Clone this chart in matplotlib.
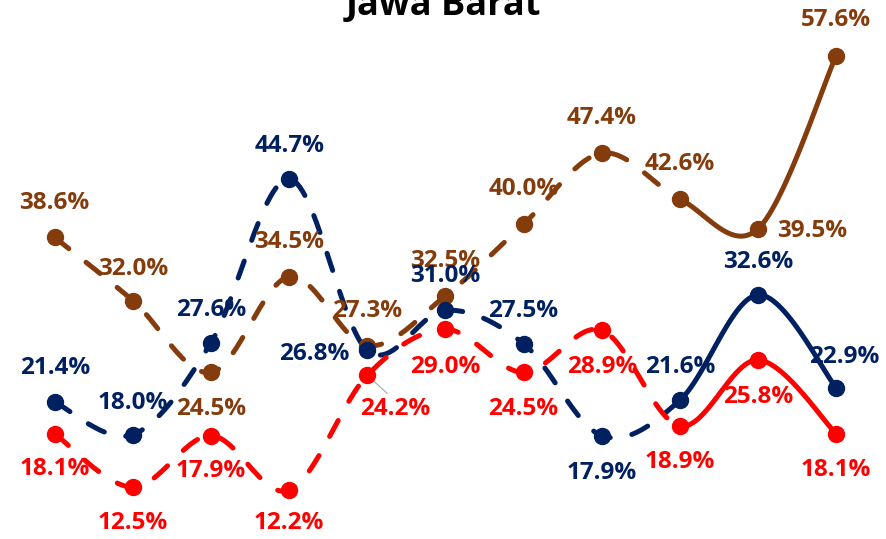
import numpy as np
import matplotlib.pyplot as plt

plt.rcParams['font.family'] = ['Open Sans', 'DejaVu Sans']

# data
x_idx = list(range(11))
brown = [38.6, 32.0, 24.5, 34.5, 27.3, 32.5, 40.0, 47.4, 42.6, 39.5, 57.6]
navy = [21.4, 18.0, 27.6, 44.7, 26.8, 31.0, 27.5, 17.9, 21.6, 32.6, 22.9]
red = [18.1, 12.5, 17.9, 12.2, 24.2, 29.0, 24.5, 28.9, 18.9, 25.8, 18.1]
split = 8  # dashed up to this point, solid after

# label offsets in pixels (dx, dy)
brown_off = [(0, 34), (0, 32), (0, -37), (0, 35), (0, 35), (0, 35), (0, 35), (0, 35), (0, 35), (54, -2), (0, 36)]
navy_off = [(0, 34), (0, 32), (0, 33), (0, 33), (-53, -4), (0, 34), (0, 33), (0, -37), (0, 33), (0, 33), (8, 31)]
red_off = [(0, -35), (0, -36), (0, -35), (0, -33), (28, -34), (0, -38), (0, -37), (0, -37), (0, -36), (0, -37), (0, -36)]

c_brown = '#843C0C'
c_navy = '#002060'
c_red = '#FF0000'


def smooth(xs, ys, n=30):
    # catmull-rom style bezier like excel smoothed lines
    xs = np.asarray(xs, float)
    ys = np.asarray(ys, float)
    P = np.column_stack([xs, ys])
    out = []
    for i in range(len(P) - 1):
        p0 = P[max(i - 1, 0)]
        p1 = P[i]
        p2 = P[i + 1]
        p3 = P[min(i + 2, len(P) - 1)]
        b1 = p1 + (p2 - p0) / 6
        b2 = p2 - (p3 - p1) / 6
        t = np.linspace(0, 1, n)[:, None]
        seg = (1 - t) ** 3 * p1 + 3 * (1 - t) ** 2 * t * b1 + 3 * (1 - t) * t ** 2 * b2 + t ** 3 * p2
        if i > 0:
            seg = seg[1:]
        out.append(seg)
    out = np.vstack(out)
    return out[:, 0], out[:, 1]


fig = plt.figure(figsize=(8.87, 5.39), dpi=100)
ax = fig.add_axes([0, 0, 1, 1])
ax.set_xlim(-0.70, 10.65)
ax.set_ylim(7.1, 63.4)
ax.axis('off')

for vals, col, offs in [(brown, c_brown, brown_off), (navy, c_navy, navy_off), (red, c_red, red_off)]:
    sx, sy = smooth(x_idx, vals)
    k = split * 30 - (split - 1)
    ax.plot(sx[:k], sy[:k], color=col, lw=3.6, dashes=(3.6, 4.4), dash_capstyle='round', zorder=2)
    ax.plot(sx[k - 1:], sy[k - 1:], color=col, lw=3.6, solid_capstyle='round', zorder=2)
    ax.plot(x_idx, vals, 'o', color=col, ms=11.5, zorder=3)
    for i, v in enumerate(vals):
        dx, dy = offs[i]
        ax.annotate(f'{v:.1f}%', (x_idx[i], v), xytext=(dx, dy), textcoords='offset pixels',
                    ha='center', va='center', color=col, fontsize=17.5, fontweight='bold', zorder=4)

# leader line for red 24.2%
ax.annotate('', (x_idx[4], red[4]), xytext=(22, -20), textcoords='offset pixels',
            arrowprops=dict(arrowstyle='-', color='#A6A6A6', lw=0.8), zorder=1)

fig.text(0.5, 0.972, 'Jawa Barat', ha='center', va='baseline', fontsize=26, fontweight='bold', color='black')

fig.savefig('out.png', dpi=100)
